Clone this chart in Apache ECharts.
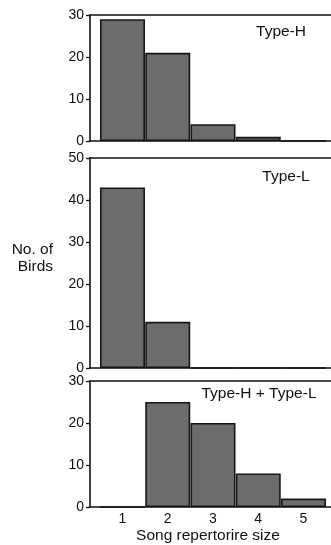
<!DOCTYPE html>
<html>
<head>
<meta charset="utf-8">
<script src="https://cdn.jsdelivr.net/npm/echarts@6/dist/echarts.min.js"></script>
<style>
  html, body { margin: 0; padding: 0; background: #fff; }
  #chart { width: 331px; height: 545px; }
</style>
</head>
<body>
<div id="chart"></div>
<script>
// Song repertoire size distributions for three groups of birds
const repertoireSizes = [1, 2, 3, 4, 5];
const typeH = [29, 21, 4, 1, 0];
const typeL = [43, 11, 0, 0, 0];
const typeHL = [0, 25, 20, 8, 2];

const panelNames = ['Type-H', 'Type-L', 'Type-H + Type-L'];
const panelMax = [30, 50, 30];
const yTicks = [10, 10, 10];

const panels = [typeH, typeL, typeHL];
const gridTops = [15, 158, 381];
const gridHeights = [126, 210, 126];

const FONT = 'Liberation Sans, Arial, sans-serif';
const INK = '#111';
const X_MIN = 0.282, X_MAX = 5.608;

const grids = gridTops.map((t, i) => ({
  left: 90, right: 0, top: t, height: gridHeights[i]
}));

// bottom axis (with labels on the last panel) plus a bare top rule for every panel
const xAxes = [];
panels.forEach((_, i) => {
  xAxes.push({
    type: 'value', gridIndex: i, min: X_MIN, max: X_MAX, position: 'bottom',
    axisLine: { show: true, onZero: false, lineStyle: { color: INK, width: 1.6 } },
    axisTick: { show: false },
    splitLine: { show: false },
    axisLabel: {
      show: i === 2, customValues: repertoireSizes, margin: 5,
      color: INK, fontSize: 14, fontFamily: FONT
    }
  });
  xAxes.push({
    type: 'value', gridIndex: i, min: X_MIN, max: X_MAX, position: 'top',
    axisLine: { show: true, onZero: false, lineStyle: { color: INK, width: 1.6 } },
    axisTick: { show: false }, axisLabel: { show: false }, splitLine: { show: false }
  });
});

const yAxes = panels.map((_, i) => ({
  type: 'value', gridIndex: i, min: 0, max: panelMax[i], interval: yTicks[i],
  axisLine: { show: true, lineStyle: { color: INK, width: 1.6 } },
  axisTick: { show: true, inside: false, length: 4, lineStyle: { color: INK, width: 1.3 } },
  splitLine: { show: false },
  axisLabel: { color: INK, fontSize: 14, fontFamily: FONT, margin: 6 }
}));

const series = panels.map((vals, i) => ({
  type: 'bar', xAxisIndex: i * 2, yAxisIndex: i,
  data: vals.map((v, k) => [repertoireSizes[k], v]),
  barWidth: 45,
  itemStyle: { color: '#6c6c6c', borderColor: '#161616', borderWidth: 1.6 },
  silent: true
}));

const labelPos = [[281, 32], [286, 177], [259, 394]];
const graphics = panelNames.map((name, i) => ({
  type: 'text', x: labelPos[i][0], y: labelPos[i][1],
  style: { text: name, fill: INK, font: '15.5px ' + FONT, textAlign: 'center', textVerticalAlign: 'middle' }
}));
graphics.push({
  type: 'text', x: 53, y: 258,
  style: { text: 'No. of\nBirds', fill: INK, font: '15.5px ' + FONT, textAlign: 'right', textVerticalAlign: 'middle', lineHeight: 17 }
});
graphics.push({
  type: 'text', x: 208, y: 536,
  style: { text: 'Song repertorire size', fill: INK, font: '15.5px ' + FONT, textAlign: 'center', textVerticalAlign: 'middle' }
});

const chart = echarts.init(document.getElementById('chart'), null, { renderer: 'canvas' });
chart.setOption({
  animation: false,
  backgroundColor: '#fff',
  grid: grids,
  xAxis: xAxes,
  yAxis: yAxes,
  series: series,
  graphic: graphics
});
</script>
</body>
</html>
